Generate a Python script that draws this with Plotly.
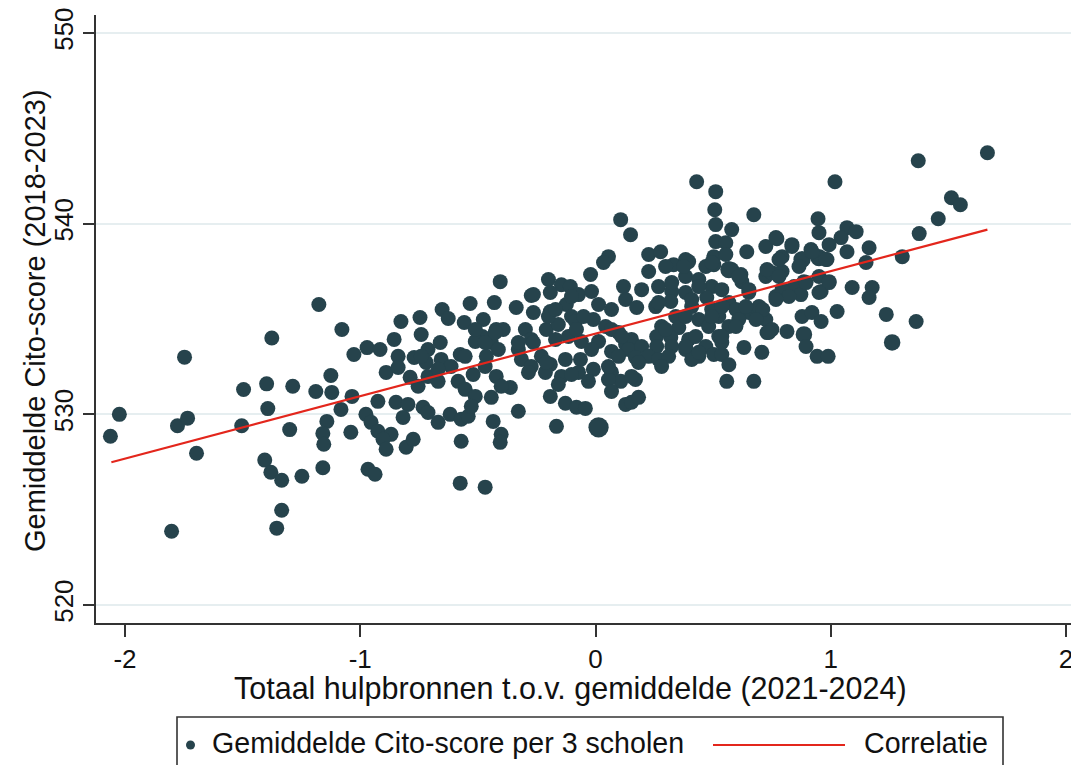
import plotly.graph_objects as go

# ---------------- data ----------------
hulpbronnen = [
    -2.062, -2.024, -1.747, -1.777, -1.734, -1.696, -1.802, -1.496, -1.504, -1.398,
    -1.393, -1.376, -1.176, -1.287, -1.189, -1.125, -1.121, -1.142, -1.300, -1.159,
    -1.155, -1.159, -1.406, -1.380, -1.334, -1.248, -1.334, -1.355, -1.078,
    -1.035, -1.082, -1.040, -1.027, -0.971, -0.916, -0.856, -0.827, -0.746, -0.741,
    -0.652, -0.626, -0.533, -0.558, -0.477, -0.481, -0.511, -0.839, -0.890, -0.839,
    -0.771, -0.788, -0.712, -0.660, -0.656, -0.720, -0.712, -0.754, -0.669, -0.614,
    -0.575, -0.554, -0.584, -0.554, -0.511, -0.520, -0.469, -0.848, -0.797, -0.733,
    -0.712, -0.925, -0.976, -0.954, -0.925, -0.869, -0.903, -0.890, -0.818, -0.805,
    -0.775, -0.669, -0.618, -0.571, -0.541, -0.571, -0.967, -0.937, -0.575, -0.469,
    -0.405, -0.430, -0.337, -0.273, -0.422, -0.443, -0.413, -0.298, -0.273, -0.328,
    -0.315, -0.273, -0.464, -0.422, -0.362, -0.443, -0.328, -0.435, -0.401, -0.528,
    0.055, 0.034, -0.200, -0.145, -0.107, -0.021, 0.119, -0.264, -0.192, -0.072,
    -0.017, -0.264, -0.192, -0.124, -0.102, 0.013, 0.068, 0.128, -0.392, -0.209,
    -0.158, -0.085, -0.009, 0.043, -0.328, -0.264, -0.170, -0.115, -0.060, 0.013,
    0.098, -0.230, -0.192, -0.128, -0.064, -0.017, 0.068, 0.128, -0.285, -0.213,
    -0.145, -0.072, -0.009, 0.068, 0.107, -0.401, -0.158, -0.102, -0.030, 0.055,
    0.068, 0.128, -0.192, -0.128, -0.081, -0.043, -0.166, 0.013, -0.405,
    0.226, 0.277, 0.332, 0.396, 0.469, 0.503, 0.226, 0.298, 0.383, 0.439,
    0.494, 0.196, 0.268, 0.324, 0.383, 0.473, 0.175, 0.256, 0.320, 0.409,
    0.494, 0.341, 0.439, 0.068, 0.281, 0.354, 0.481, 0.260, 0.320, 0.396,
    0.469, 0.153, 0.141, 0.196, 0.260, 0.324, 0.383, 0.439, 0.503, 0.098,
    0.170, 0.226, 0.268, 0.311, 0.281, 0.409, 0.170, 0.153, 0.183, 0.055,
    0.430, 0.511, 0.507, 0.511, 0.673, 0.579, 0.511, 0.554, 0.554, 0.643,
    0.724, 0.767, 0.149, 0.107, 0.383, 0.503, 0.579, 0.618, 0.724, 0.622,
    0.652, 0.767, 0.537, 0.567, 0.597, 0.652, 0.695, 0.724, 0.729, 0.609,
    0.524, 0.567, 0.524, 0.631, 0.707, 0.537, 0.567, 0.558, 0.673, 0.537,
    1.666, 1.372, 1.018, 1.513, 1.551, 1.457, 1.376, 0.946, 0.950, 1.069,
    1.108, 1.044, 0.993, 0.771, 0.835, 1.163, 1.069, 0.916, 0.878, 0.793,
    0.950, 0.984, 1.150, 1.304, 0.750, 0.793, 0.886, 0.950, 0.993, 0.844,
    0.873, 0.959, 1.091, 1.176, 1.163, 1.027, 1.236, 1.363, 0.750, 0.814,
    0.878, 0.920, 0.959, 0.886, 0.895, 0.942, 0.989, 1.261,
    -0.469, -0.426, -0.511, -0.200, -0.170, -0.102, -0.051, -0.081, 0.111, 0.268,
    0.324, 0.383, 0.298, 0.426, 0.183, 0.153, -0.209, -0.669, -0.741,
    0.375, 0.494, 0.567, 0.609, 0.439, 0.409, 0.537, 0.639, 0.652, 0.711,
    0.494, 0.537, 0.597, 0.737, 0.682, 0.383, 0.439, 0.729, 0.780, 0.835,
    0.920, 0.980, 0.865, 0.993, 0.895, 0.780, 0.793, 0.822, 0.767, 0.950,
]
cito_score = [
    528.85, 530.00, 533.00, 529.40, 529.80, 527.96, 523.87, 531.30, 529.40, 531.60,
    530.30, 534.00, 535.76, 531.47, 531.20, 532.04, 531.15, 529.63, 529.20, 529.00,
    528.43, 527.20, 527.60, 526.96, 526.54, 526.75, 524.97, 524.03, 534.45,
    530.94, 530.26, 529.06, 533.14, 533.50, 533.40, 533.93, 534.87, 535.08, 534.19,
    535.50, 535.03, 535.81, 534.82, 534.97, 534.08, 533.82, 533.04, 532.20, 532.46,
    532.98, 531.94, 533.40, 533.77, 532.88, 532.72, 531.99, 531.47, 531.73, 532.51,
    533.14, 533.04, 531.73, 531.31, 530.94, 532.09, 532.51, 530.63, 530.52, 530.37,
    530.10, 530.68, 530.00, 529.58, 529.11, 528.95, 528.69, 528.17, 529.84, 528.27,
    528.69, 529.58, 530.00, 529.74, 529.90, 528.59, 527.12, 526.86, 526.39, 526.18,
    536.96, 535.86, 535.60, 536.23, 534.45, 533.77, 533.40, 534.45, 533.93, 533.40,
    532.88, 532.51, 533.04, 531.99, 531.41, 530.89, 530.16, 529.63, 528.95, 530.42,
    538.27, 537.96, 537.07, 536.80, 536.70, 537.33, 536.70, 536.28, 536.39, 536.28,
    536.44, 535.34, 535.39, 535.76, 535.13, 535.76, 535.50, 536.02, 534.45, 534.45,
    534.71, 534.87, 534.97, 534.61, 533.77, 533.77, 533.93, 534.08, 533.82, 533.82,
    534.29, 533.04, 532.62, 532.88, 532.88, 533.40, 533.30, 533.66, 532.20, 532.20,
    531.99, 532.20, 532.36, 532.20, 531.73, 531.47, 531.57, 532.09, 531.73, 531.83,
    531.20, 530.52, 530.94, 530.58, 530.37, 530.31, 529.37, 529.32, 528.53,
    538.38, 538.53, 537.85, 538.01, 537.75, 538.27, 537.49, 537.75, 537.23, 537.07,
    536.70, 536.54, 536.70, 536.44, 536.39, 536.13, 535.60, 535.65, 535.92, 535.65,
    535.50, 535.13, 534.97, 534.45, 534.61, 534.55, 534.61, 534.08, 534.03, 533.93,
    533.56, 533.93, 533.40, 533.56, 533.56, 533.56, 533.40, 533.04, 533.14, 533.04,
    532.98, 533.04, 532.88, 533.04, 532.51, 532.88, 531.83, 530.63, 530.89, 532.51,
    542.20, 541.68, 540.73, 539.95, 540.47, 539.69, 539.06, 539.00, 538.38, 538.53,
    538.80, 539.27, 539.42, 540.21, 538.12, 537.85, 537.59, 537.33, 537.23, 536.96,
    536.39, 536.18, 536.54, 535.86, 535.50, 535.34, 535.65, 534.97, 534.29, 534.97,
    535.13, 534.61, 534.08, 533.51, 533.25, 533.14, 532.60, 531.73, 531.73, 533.77,
    543.72, 543.30, 542.20, 541.36, 540.99, 540.26, 539.48, 540.26, 539.53, 539.79,
    539.58, 539.27, 538.90, 539.21, 538.90, 538.74, 538.53, 538.64, 538.12, 538.27,
    538.22, 538.12, 537.96, 538.27, 537.43, 537.49, 536.96, 537.23, 536.96, 536.70,
    536.28, 536.44, 536.65, 536.65, 536.13, 535.39, 535.24, 534.87, 534.45, 534.35,
    535.13, 535.34, 534.87, 534.19, 533.56, 533.04, 533.04, 533.77,
    533.77, 534.29, 534.45, 535.13, 535.50, 536.18, 535.13, 534.45, 534.08, 535.86,
    536.91, 535.13, 534.45, 534.08, 532.72, 531.99, 532.72, 532.36, 533.04,
    537.75, 537.96, 537.59, 537.23, 536.70, 536.02, 535.65, 535.65, 536.54, 535.50,
    535.13, 534.08, 534.61, 534.29, 534.97, 533.56, 533.25, 537.59, 538.12, 538.80,
    538.53, 538.12, 537.75, 536.91, 536.91, 537.23, 536.54, 536.18, 536.02, 536.39,
]
# points with a visibly larger weight (index -> relative weight)
heavy_points = {166: 1.35, 278: 1.15, 276: 1.15, 327: 1.15, 305: 1.1, 301: 1.1}

fit_x = [-2.058, 1.666]
fit_y = [527.49, 539.69]

x_ticks = [-2, -1, 0, 1, 2]
y_ticks = [520, 530, 540, 550]

x_title = "Totaal hulpbronnen t.o.v. gemiddelde (2021-2024)"
y_title = "Gemiddelde Cito-score (2018-2023)"
legend_scatter = "Gemiddelde Cito-score per 3 scholen"
legend_line = "Correlatie"

# ---------------- styling ----------------
FONT = "Liberation Sans, Arial, Helvetica, sans-serif"
DOT = "#26434c"
RED = "#e3261c"
AXIS = "#333333"
GRID = "#e6eef0"
TXT = "#111111"

W_FIG, H_FIG = 1071, 765
L, R, T, B = 96, 0, 15, 142
PW, PH = W_FIG - L - R, H_FIG - T - B


def px_x(p):
    return (p - L) / PW


def px_y(p):
    return (T + PH - p) / PH


base_size = 15
sizes = [base_size * heavy_points.get(i, 1.0) for i in range(len(hulpbronnen))]

fig = go.Figure()
fig.add_trace(go.Scatter(
    x=hulpbronnen, y=cito_score, mode="markers",
    marker=dict(color=DOT, size=sizes, opacity=1, line=dict(width=0)),
    name=legend_scatter, showlegend=False,
))
fig.add_trace(go.Scatter(
    x=fit_x, y=fit_y, mode="lines",
    line=dict(color=RED, width=2.2),
    name=legend_line, showlegend=False,
))

fig.update_layout(
    template="none",
    width=W_FIG, height=H_FIG,
    margin=dict(l=L, r=R, t=T, b=B, pad=0, autoexpand=False),
    paper_bgcolor="white", plot_bgcolor="white",
    font=dict(family=FONT, color=TXT),
    showlegend=False,
)
fig.update_xaxes(
    automargin=False, ticklabeloverflow="allow",
    range=[-2.1233, 2.0213], tickvals=x_ticks, ticktext=[str(v) for v in x_ticks],
    showgrid=False, zeroline=False,
    showline=True, linecolor=AXIS, linewidth=1.6,
    ticks="outside", ticklen=12, tickwidth=1.6, tickcolor=AXIS,
    tickfont=dict(size=26, family=FONT, color=TXT),
)
fig.update_yaxes(
    automargin=False,
    range=[519.056, 550.944], tickvals=y_ticks, ticktext=[str(v) for v in y_ticks],
    showgrid=True, gridcolor=GRID, gridwidth=2, zeroline=False,
    showline=True, linecolor=AXIS, linewidth=1.6,
    ticks="outside", ticklen=11, tickwidth=1.6, tickcolor=AXIS,
    tickangle=-90,
    tickfont=dict(size=26, family=FONT, color=TXT),
)

# axis titles
fig.add_annotation(
    text=x_title, xref="paper", yref="paper", x=px_x(570), y=px_y(688),
    xanchor="center", yanchor="middle", showarrow=False,
    font=dict(size=30.5, family=FONT, color=TXT),
)
fig.add_annotation(
    text=y_title, xref="paper", yref="paper", x=px_x(35), y=px_y(321),
    xanchor="center", yanchor="middle", showarrow=False, textangle=-90,
    font=dict(size=29, family=FONT, color=TXT),
)

# legend box drawn below the plot
fig.add_shape(type="rect", xref="paper", yref="paper",
              x0=px_x(177), x1=px_x(1003), y0=px_y(717), y1=px_y(790),
              line=dict(color=AXIS, width=1.6), fillcolor="rgba(0,0,0,0)")
fig.add_shape(type="circle", xref="paper", yref="paper",
              x0=px_x(186), x1=px_x(195), y0=px_y(749.5), y1=px_y(740.5),
              line=dict(width=0), fillcolor=DOT)
fig.add_annotation(
    text=legend_scatter, xref="paper", yref="paper", x=px_x(210), y=px_y(743),
    xanchor="left", yanchor="middle", showarrow=False,
    font=dict(size=28.6, family=FONT, color=TXT),
)
fig.add_shape(type="line", xref="paper", yref="paper",
              x0=px_x(713), x1=px_x(845), y0=px_y(745), y1=px_y(745),
              line=dict(color=RED, width=2.2))
fig.add_annotation(
    text=legend_line, xref="paper", yref="paper", x=px_x(862), y=px_y(743),
    xanchor="left", yanchor="middle", showarrow=False,
    font=dict(size=28.6, family=FONT, color=TXT),
)

fig.write_html(
    "out.html",
    config={"displayModeBar": False},
    post_script="document.body.style.margin='0';document.body.style.overflow='hidden';",
)
